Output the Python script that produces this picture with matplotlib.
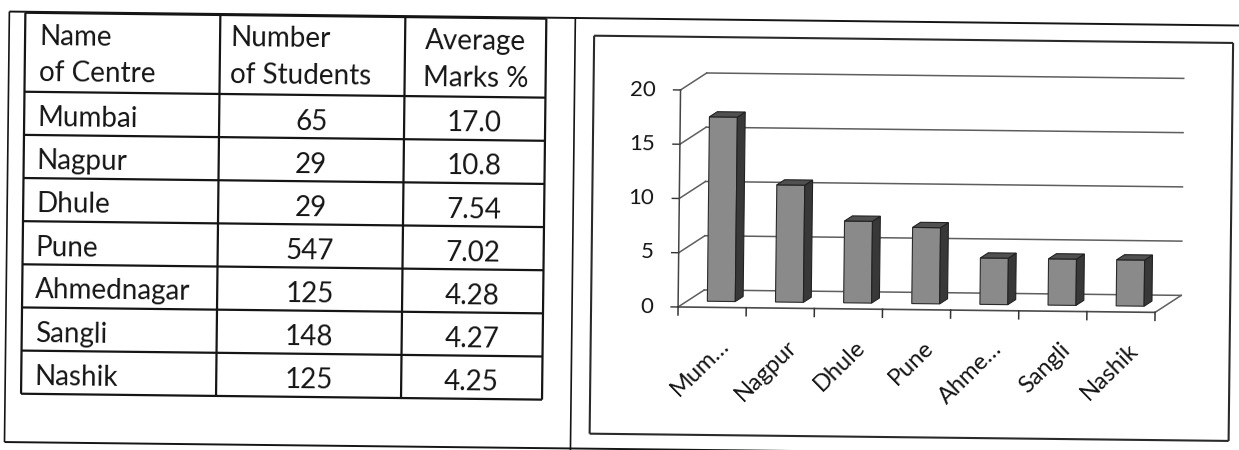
import matplotlib
matplotlib.use("Agg")
import matplotlib.pyplot as plt
import numpy as np
from matplotlib.lines import Line2D
from matplotlib.patches import Polygon
from matplotlib.transforms import Affine2D

# table / chart data
centres = ["Mumbai", "Nagpur", "Dhule", "Pune", "Ahmednagar", "Sangli", "Nashik"]
students = [65, 29, 29, 547, 125, 148, 125]
avg_marks = [17.0, 10.8, 7.54, 7.02, 4.28, 4.27, 4.25]
bar_labels = ["Mum…", "Nagpur", "Dhule", "Pune", "Ahme…", "Sangli", "Nashik"]
y_ticks = [0, 5, 10, 15, 20]
headers = [("Name", "of Centre"), ("Number", "of Students"), ("Average", "Marks %")]

W, H = 1239, 450
TILT = 0.65  # the printed page is slightly skewed

plt.rcParams["font.family"] = ["Lato", "DejaVu Sans"]
INK = "#151515"

fig = plt.figure(figsize=(W / 100, H / 100), dpi=100)
fig.patch.set_facecolor("white")

tilt = Affine2D().rotate_deg_around(W / 2, H / 2, -TILT)
page = Affine2D().scale(1, -1).translate(0, H) + tilt  # page pixels, y pointing down


def seg(xs, ys, color=INK, lw=1.6):
    fig.add_artist(Line2D(xs, ys, transform=page, color=color, lw=lw,
                          solid_capstyle="butt"))


def page_text(x, y, s, ha="left", size=20):
    fig.text(x, y, s, transform=page, ha=ha, va="baseline", fontsize=size,
             color=INK, rotation=-TILT)


# outer page frame and panel divider
seg([7, W + 20], [18.5, 18.5], lw=1.4)
seg([7, W + 20], [449, 449], lw=1.4)
seg([7, 7], [18.5, 449], lw=1.2)
seg([573, 573], [18.5, 452], lw=1.2)

# ---- table ----
col_x = [23, 218, 403, 544]
t_top, head_bot, t_bot = 19.5, 98.5, 400.5
row_h = (t_bot - head_bot) / len(centres)

for y in [t_top, head_bot] + [head_bot + row_h * (i + 1) for i in range(len(centres))]:
    seg([col_x[0], col_x[-1]], [y, y])
for x in col_x:
    seg([x, x], [t_top, t_bot])

head_x = [(37, "left"), (228, "left"), (474, "center")]
for (l1, l2), (x, ha) in zip(headers, head_x):
    page_text(x, 52, l1, ha)
    page_text(x, 89, l2, ha)

for i, (name, n, m) in enumerate(zip(centres, students, avg_marks)):
    base = head_bot + row_h * i + 35
    page_text(36, base, name)
    page_text((col_x[1] + col_x[2]) / 2, base, str(n), "center")
    page_text((col_x[2] + col_x[3]) / 2, base, str(m), "center")

# ---- chart ----
seg([592, 1231], [36, 36], color="#2a2a2a", lw=1.5)
seg([592, 1231], [434, 434], color="#2a2a2a", lw=1.5)
seg([592, 592], [36, 434], color="#2a2a2a", lw=1.5)
seg([1231, 1231], [36, 434], color="#2a2a2a", lw=1.5)

AX_L, AX_B, AX_W, AX_H = 679, 306.3, 477, 217
ax = fig.add_axes([AX_L / W, (H - AX_B) / H, AX_W / W, AX_H / H])
ax.axis("off")
n_cat = len(avg_marks)
ymax = y_ticks[-1]

DX, DY = 26, 17.3  # full floor depth in pixels
ddx = DX / (AX_W / n_cat)
ddy = DY / (AX_H / ymax)
F0, F1 = 0.35, 0.65  # bar front/back depth
BW = 0.41


def depth(f=0.0, ox=0.0, oy=0.0):
    return ax.transData + Affine2D().translate(f * DX + ox, f * DY + oy) + tilt


GRID = "#5e5e5e"
left, right = -0.5, n_cat - 0.5

for v in y_ticks:
    # back wall gridline and side wall diagonal
    ax.plot([left, right], [v, v], color=GRID, lw=1.1, transform=depth(1), clip_on=False)
    ax.plot([left, left + ddx], [v, v + ddy], color=GRID, lw=1.1, transform=depth(0),
            clip_on=False)
    ax.plot([left - 7 / (AX_W / n_cat), left], [v, v], color="#333333", lw=1.0,
            transform=depth(0), clip_on=False)
    ax.text(left, v, str(v), transform=depth(0, -25, 0), ha="right", va="center",
            fontsize=16, color=INK, rotation=-TILT)

# floor
ax.plot([left, right], [0, 0], color="#4a4a4a", lw=1.2, transform=depth(0), clip_on=False)
ax.plot([right, right + ddx], [0, ddy], color=GRID, lw=1.1, transform=depth(0),
        clip_on=False)
ax.plot([left, left], [0, ymax], color="#444444", lw=1.1, transform=depth(0), clip_on=False)
for b in np.arange(n_cat + 1) - 0.5:
    ax.plot([b, b], [0, -8 / (AX_H / ymax)], color="#333333", lw=1.1, transform=depth(0),
            clip_on=False)

# columns: front face, then side and top faces
x = np.arange(n_cat)
ax.bar(x, avg_marks, width=BW, color="#8a8a8a", edgecolor="#2a2a2a", lw=0.8,
       transform=depth(F0), clip_on=False, zorder=3)
for xi, v in zip(x, avg_marks):
    xl, xr = xi - BW / 2, xi + BW / 2
    side = [(xr + F0 * ddx, F0 * ddy), (xr + F1 * ddx, F1 * ddy),
            (xr + F1 * ddx, v + F1 * ddy), (xr + F0 * ddx, v + F0 * ddy)]
    top = [(xl + F0 * ddx, v + F0 * ddy), (xl + F1 * ddx, v + F1 * ddy),
           (xr + F1 * ddx, v + F1 * ddy), (xr + F0 * ddx, v + F0 * ddy)]
    ax.add_patch(Polygon(side, closed=True, fc="#383838", ec="#222222", lw=0.8,
                         transform=depth(0), clip_on=False, zorder=3))
    ax.add_patch(Polygon(top, closed=True, fc="#505050", ec="#222222", lw=0.8,
                         transform=depth(0), clip_on=False, zorder=3))

for xi, lab in zip(x, bar_labels):
    ax.text(xi, 0, lab, transform=depth(0, 14, -35), rotation=45 - TILT,
            rotation_mode="anchor", ha="right", va="center", fontsize=17, color=INK)

ax.set_xlim(left, right)
ax.set_ylim(0, ymax)

fig.savefig("out.png", dpi=100, facecolor="white")
